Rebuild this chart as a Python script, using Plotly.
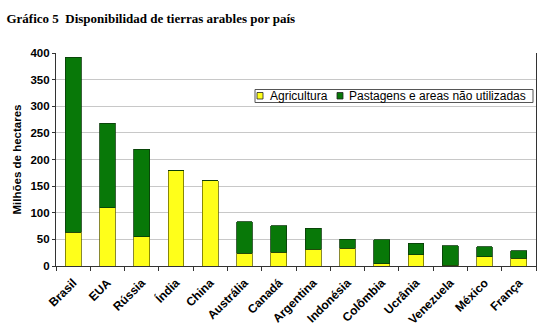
import plotly.graph_objects as go

paises = ["Brasil", "EUA", "Rússia", "Índia", "China", "Austrália", "Canadá", "Argentina",
          "Indonésia", "Colômbia", "Ucrânia", "Venezuela", "México", "França"]
agricultura = [63, 109, 55, 179, 160, 24, 26, 31, 33, 4, 21, 1, 17, 15]
pastagens = [329, 159, 164, 1, 0, 59, 50, 40, 17, 45, 22, 37, 19, 14]
y_ticks = [0, 50, 100, 150, 200, 250, 300, 350, 400]
series_names = ["Agricultura", "Pastagens e areas não utilizadas"]
series_colors = ["#ffff1a", "#087808"]
series_edges = ["#6b6b00", "#0a3a0a"]

fig = go.Figure()
fig.add_trace(go.Bar(x=paises, y=agricultura, name=series_names[0],
                     marker=dict(color=series_colors[0], line=dict(color=series_edges[0], width=0.8))))
fig.add_trace(go.Bar(x=paises, y=pastagens, name=series_names[1],
                     marker=dict(color=series_colors[1], line=dict(color=series_edges[1], width=0.8))))

# plot area in pixels: x 56..536, y 53..266
W, L, R = 540, 56, 536
T, B = 53, 266
def px(x):
    return (x - L) / (R - L)
def py(y):
    return (B - y) / (B - T)

# compact legend box (drawn manually to match the reference layout)
fig.add_shape(type="rect", xref="paper", yref="paper",
              x0=px(255), x1=px(533), y0=py(102.5), y1=py(89.5),
              line=dict(color="#555555", width=1), fillcolor="white", layer="above")
legend_items = [(257, 268, 0), (337, 347, 1)]
for sx, tx, i in legend_items:
    fig.add_shape(type="rect", xref="paper", yref="paper",
                  x0=px(sx), x1=px(sx + 6), y0=py(99), y1=py(92.5),
                  line=dict(color="#222222", width=0.8), fillcolor=series_colors[i], layer="above")
    fig.add_annotation(xref="paper", yref="paper", x=px(tx), y=py(96), xanchor="left",
                       yanchor="middle", text=series_names[i], showarrow=False,
                       font=dict(size=12, color="black", family="Liberation Sans, Arial"))

fig.update_layout(
    barmode="stack", bargap=0.54,
    width=540, height=329,
    margin=dict(l=56, r=4, t=53, b=63),
    paper_bgcolor="white", plot_bgcolor="white",
    font=dict(family="Liberation Sans, Arial", color="black"),
    title=dict(text="<b>Gráfico 5  Disponibilidad de tierras arables por país</b>",
               x=0.012, xanchor="left", y=0.945, yanchor="middle",
               font=dict(family="Liberation Serif, Times New Roman", size=13, color="black")),
    showlegend=False,
)
fig.update_xaxes(showline=True, linecolor="#333333", linewidth=1.2, automargin=False,
                 ticks="outside", tickson="boundaries", ticklen=4, tickcolor="#333333",
                 ticklabelstandoff=4,
                 tickangle=-45, tickfont=dict(size=12, color="black", family="Liberation Sans, Arial", weight="bold"),
                 showgrid=False)
fig.update_yaxes(range=[0, 400], tickvals=y_ticks, showline=True, linecolor="#333333",
                 linewidth=1.2, mirror=True,
                 ticks="outside", ticklen=3, tickcolor="#333333",
                 gridcolor="#c8c8c8", gridwidth=1,
                 tickfont=dict(size=11.5, color="black", family="Liberation Sans, Arial", weight="bold"),
                 title=dict(text="<b>Milhões de hectares</b>", standoff=6,
                            font=dict(size=11.5, color="black")))
fig.write_html("out.html")
